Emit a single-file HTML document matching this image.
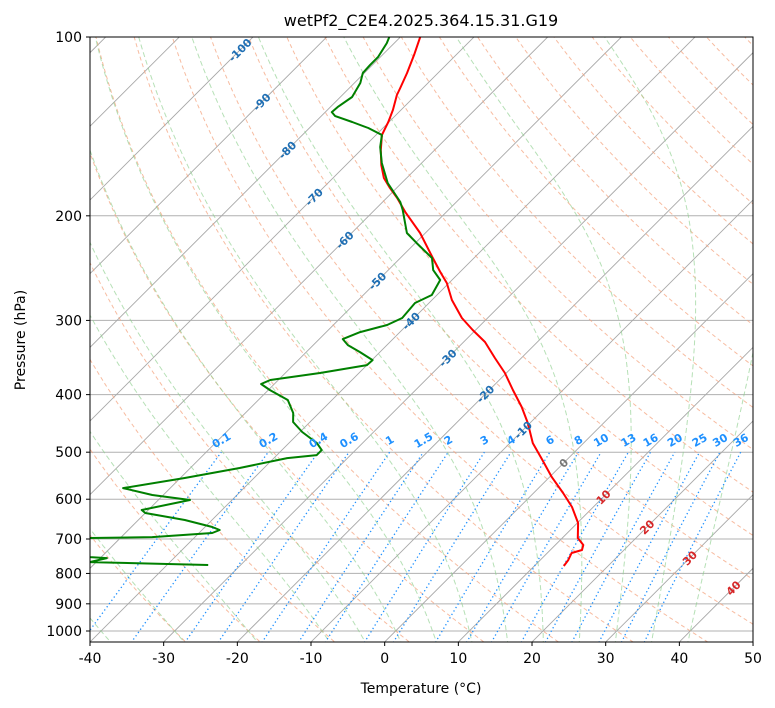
<!DOCTYPE html>
<html><head><meta charset="utf-8"><style>
html,body{margin:0;padding:0;background:#fff;}
svg{display:block;font-family:"DejaVu Sans","Liberation Sans",sans-serif;}
</style></head><body>
<svg id="c" width="775" height="708" viewBox="0 0 775 708" xmlns="http://www.w3.org/2000/svg">
<defs><clipPath id="pc"><rect x="90" y="37" width="663" height="605"/></clipPath></defs>
<rect x="0" y="0" width="775" height="708" fill="#fff"/>
<g id="bg" clip-path="url(#pc)"></g>
<g id="prof" clip-path="url(#pc)"></g>
<g id="lbl"></g>
<rect x="90" y="37" width="663" height="605" fill="none" stroke="#000" stroke-width="1"/>
<g id="ax"></g>
<text x="421" y="26" text-anchor="middle" font-size="16">wetPf2_C2E4.2025.364.15.31.G19</text>
<text x="421" y="693" text-anchor="middle" font-size="14">Temperature (°C)</text>
<text x="25" y="340" text-anchor="middle" font-size="14" transform="rotate(-90 25 340)">Pressure (hPa)</text>
</svg>
<script>
const tempP=[100,107.2,115,121.8,125.2,132.7,139,146.2,155,164.3,172.7,179.6,186.6,197,213.8,234.6,248.6,259.5,277.2,297.2,311.4,326.2,347,367.8,392.9,419.7,446.5,482.6,515.4,550.6,585.7,618.3,658,697.4,716.6,730.6,739.2,759.5,777.4];
const tempT=[-77.3,-75.7,-74.2,-73.1,-72.6,-71.1,-70.1,-69.2,-67.3,-65.2,-63.1,-60.9,-58.6,-55.6,-50.7,-45.8,-42.7,-40.3,-37.3,-33.5,-30.4,-27.1,-23.6,-20.2,-16.8,-13.3,-10.3,-6.9,-3.3,0.3,4.0,7.1,10.1,12.1,13.8,14.3,13.3,13.8,14.0];
const dewP=[100,102.4,108.1,111.5,115,119.5,126.2,131.2,133.8,135.9,139,142.3,146.2,153.2,163,176.1,189.6,195.5,213.8,222.3,235.5,246.8,256.5,271.9,280.4,297.2,305.4,313.9,322.5,330.1,339.2,349.9,356.7,367.8,377.9,383.8,392.9,408.4,429.5,444.7,462.4,482.6,495.9,505.6,511.5,531.7,552.7,574.6,590.2,601.8,625.6,632.9,650.3,668.3,676.1,684,694.8,697.4,716.6,736.2,750.8,753.7,765.5,774.3];
const dewT=[-81.5,-81,-80.3,-80.3,-80.2,-79.2,-78.4,-79,-79.1,-78.1,-75,-72,-69.2,-67.8,-65.4,-61.9,-57.6,-56.2,-52.5,-49.8,-45.7,-43.9,-41.6,-40.7,-41.9,-41.6,-42.7,-45.4,-46.8,-45.3,-42.7,-39.9,-40,-45.3,-51.1,-51.8,-49.8,-46,-43.5,-42.3,-39.7,-36.2,-34.6,-34.6,-38.2,-43.3,-49.4,-56.4,-51.5,-45.7,-50.9,-50,-43.7,-39,-37.6,-38.2,-45.8,-54.1,-60,-59,-51.5,-49.1,-50.9,-34.4];
const xTicks=[-40,-30,-20,-10,0,10,20,30,40,50];
const pTicks=[100,200,300,400,500,600,700,800,900,1000];
const isoT=[-100,-90,-80,-70,-60,-50,-40,-30,-20,-10,0,10,20,30,40];
const isoLabelY=[50,102,150,197,240,281,321,358,394,430,463,497,527,558,588];
const mixW=[0.1,0.2,0.4,0.6,1,1.5,2,3,4,6,8,10,13,16,20,25,30,36];
const mixLabels=["0.1","0.2","0.4","0.6","1","1.5","2","3","4","6","8","10","13","16","20","25","30","36"];
const dryTheta=[-30,-20,-10,0,10,20,30,40,50,60,70,80,90,100,110,120,130,140,150,160,170,180,190];
const moistT0=[-40,-30,-20,-10,-5,0,5,10,15,20,25,30,35,40];

const NS="http://www.w3.org/2000/svg";
function yP(p){return 37+594*Math.log10(p/100);}
function xT(T,p){return 90+(T+40)*7.367+(642-yP(p));}
function mk(tag,attrs,parent){const e=document.createElementNS(NS,tag);for(const k in attrs)e.setAttribute(k,attrs[k]);parent.appendChild(e);return e;}
function pathD(ps,ts){return ps.map((p,i)=>(i?'L':'M')+xT(ts[i],p).toFixed(1)+' '+yP(p).toFixed(1)).join('');}
const bg=document.getElementById('bg'),prof=document.getElementById('prof'),lbl=document.getElementById('lbl'),ax=document.getElementById('ax');
const pLevels=[];for(let p=1060;p>=95;p-=5)pLevels.push(p);

// horizontal grid
pTicks.forEach(p=>{const l=mk('line',{x1:90,x2:753,y1:yP(p),y2:yP(p),stroke:'#b0b0b0','stroke-width':1},bg);

});
// isotherms
for(let T=-150;T<=60;T+=10){const l=mk('path',{d:pathD([1060,95],[T,T]),stroke:'#a8a8a8','stroke-width':0.9,fill:'none'},bg);

}
// dry adiabats
dryTheta.forEach(th=>{const ts=pLevels.map(p=>(th+273.15)*Math.pow(p/1000,0.2857)-273.15);
const l=mk('path',{d:pathD(pLevels,ts),stroke:'#f4a582','stroke-width':1,'stroke-dasharray':'4,3',fill:'none',opacity:0.75},bg);

});
// moist adiabats
function es(Tc){return 6.112*Math.exp(17.67*Tc/(Tc+243.5));}
function dTdp(p,T){const Tc=T-273.15;const e=es(Tc);const rs=0.622*e/(p-e);const Rd=287.04,Lv=2.501e6,Cp=1005.7;
return (Rd*T+Lv*rs)/(Cp+Lv*Lv*rs*0.622/(Rd*T*T))/p;}
function moist(t0){const out={};let T=t0+273.15;let p=1000;out[1000]=T;
for(let pp=1000;pp<1060;pp+=5){T+=dTdp(pp,T)*5;out[pp+5]=T;}
T=t0+273.15;for(let pp=1000;pp>95;pp-=5){const h=-5;const k1=dTdp(pp,T),k2=dTdp(pp+h/2,T+h/2*k1),k3=dTdp(pp+h/2,T+h/2*k2),k4=dTdp(pp+h,T+h*k3);T+=h/6*(k1+2*k2+2*k3+k4);out[pp-5]=T;}
return pLevels.map(p=>out[p]-273.15);}
moistT0.forEach(t0=>{const ts=moist(t0);
const l=mk('path',{d:pathD(pLevels,ts),stroke:'#8fcf8f','stroke-width':1,'stroke-dasharray':'5,3',fill:'none',opacity:0.65},bg);

});
// mixing ratio lines
function tdFromE(e){const l=Math.log(e/6.112);return 243.5*l/(17.67-l);}
const mixP=[];for(let p=1060;p>=500;p-=10)mixP.push(p);
mixW.forEach((w,i)=>{const ws=w/1000;const ts=mixP.map(p=>tdFromE(p*ws/(0.622+ws)));
const l=mk('path',{d:pathD(mixP,ts),stroke:'#1e90ff','stroke-width':1.3,'stroke-dasharray':'1.3,2.7',fill:'none'},bg);


const tx=xT(tdFromE(500*ws/(0.622+ws)),500);
const t=mk('text',{x:tx,y:444,'text-anchor':'middle','font-size':11,'font-weight':'bold',fill:'#1e90ff',transform:`rotate(-30 ${tx} 440)`},lbl);
t.textContent=mixLabels[i];

});
// isotherm labels
isoT.forEach((T,i)=>{const yy=isoLabelY[i];const xx=90+(T+40)*7.367+(642-yy);
const col=T<0?'#1f6fb4':(T===0?'#777':'#d62728');
const t=mk('text',{x:xx,y:yy+4,'text-anchor':'middle','font-size':11,'font-weight':'bold',fill:col,transform:`rotate(-45 ${xx} ${yy})`},lbl);
t.textContent=String(T);

});
// profiles
const tl=mk('path',{d:pathD(tempP,tempT),stroke:'#ff0000','stroke-width':2,fill:'none','stroke-linejoin':'round'},prof);


const dl=mk('path',{d:pathD(dewP,dewT),stroke:'#008000','stroke-width':2,fill:'none','stroke-linejoin':'round'},prof);


// axes ticks
xTicks.forEach(T=>{const x=90+(T+40)*7.367;mk('line',{x1:x,x2:x,y1:642,y2:646,stroke:'#000'},ax);
const t=mk('text',{x:x,y:663,'text-anchor':'middle','font-size':14},ax);t.textContent=String(T);

});
pTicks.forEach(p=>{const y=yP(p);mk('line',{x1:86,x2:90,y1:y,y2:y,stroke:'#000'},ax);
const t=mk('text',{x:82,y:y+5,'text-anchor':'end','font-size':14},ax);t.textContent=String(p);

});
</script>
</body></html>
